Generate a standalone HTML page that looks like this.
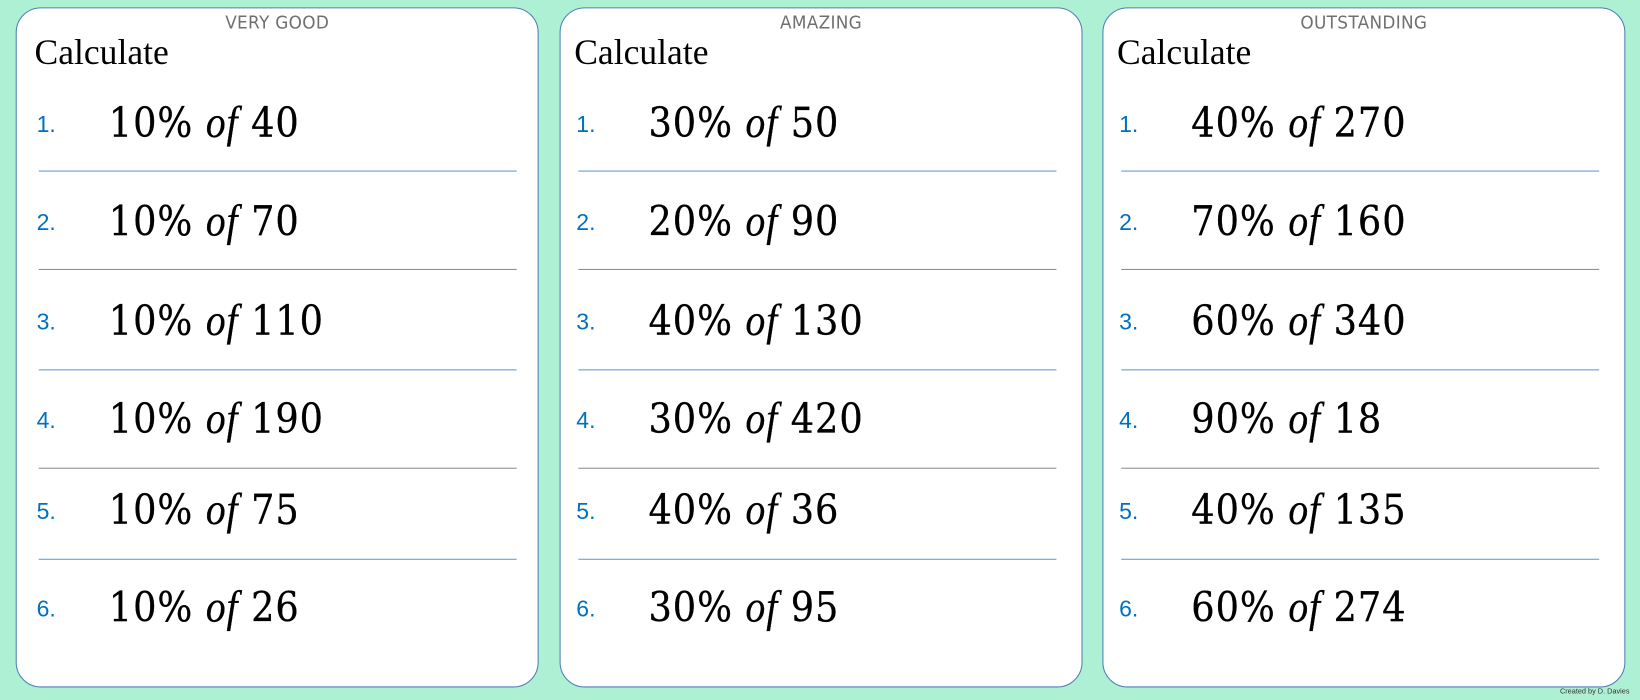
<!DOCTYPE html>
<html><head><meta charset="utf-8"><style>
html,body{margin:0;padding:0;width:1640px;height:700px;overflow:hidden;background:#adf0d3}
#w{position:absolute;left:0;top:0;width:1568px;height:669px;transform:scale(1.04592,1.04634);transform-origin:0 0}
.p{position:absolute;top:7px;width:498px;height:648px;background:#fff;border:1.5px solid #4f7fb5;border-radius:24px}
.in{position:absolute;left:0;top:0;width:100%;height:100%}
.s .in{left:-4px}
.t{position:absolute;top:4px;left:0;width:100%;text-align:center;font:17px "DejaVu Sans","Liberation Sans",sans-serif;color:#707070;letter-spacing:0.3px;transform:scaleX(0.95)}
.c{position:absolute;left:17px;top:24px;font:34px "Liberation Serif",serif;color:#000}
.n{position:absolute;left:19px;font:22px "Liberation Sans",sans-serif;color:#0070c0}
.e{position:absolute;left:88px;font:39px "DejaVu Serif","Liberation Serif",serif;color:#000;letter-spacing:1px;transform:scaleX(0.9);transform-origin:0 0;white-space:nowrap;-webkit-text-stroke:0.3px #000}
.e i{font-family:"Liberation Serif",serif;font-size:42px}
.l{position:absolute;left:21px;width:457px;height:1px}
.b{background:#5b9bd5}.g{background:#8c8c8c}
.cr{position:absolute;right:10px;top:658px;font:7px "Liberation Sans",sans-serif;color:#333}
</style></head><body><div id="w">
<div class="p" style="left:15px"><div class="in"><div class="t">VERY GOOD</div><div class="c">Calculate</div>
<div class="n" style="top:98px">1.</div><div class="e" style="top:86px">10% <i>of</i> 40</div><div class="l b" style="top:155px"></div>
<div class="n" style="top:192px">2.</div><div class="e" style="top:180px">10% <i>of</i> 70</div><div class="l g" style="top:249px"></div>
<div class="n" style="top:287px">3.</div><div class="e" style="top:275px">10% <i>of</i> 110</div><div class="l b" style="top:345px"></div>
<div class="n" style="top:381px">4.</div><div class="e" style="top:369px">10% <i>of</i> 190</div><div class="l g" style="top:439px"></div>
<div class="n" style="top:468px">5.</div><div class="e" style="top:456px">10% <i>of</i> 75</div><div class="l b" style="top:526px"></div>
<div class="n" style="top:561px">6.</div><div class="e" style="top:549px">10% <i>of</i> 26</div>
</div></div>
<div class="p s" style="left:535px"><div class="in"><div class="t" style="left:4px">AMAZING</div><div class="c">Calculate</div>
<div class="n" style="top:98px">1.</div><div class="e" style="top:86px">30% <i>of</i> 50</div><div class="l b" style="top:155px"></div>
<div class="n" style="top:192px">2.</div><div class="e" style="top:180px">20% <i>of</i> 90</div><div class="l g" style="top:249px"></div>
<div class="n" style="top:287px">3.</div><div class="e" style="top:275px">40% <i>of</i> 130</div><div class="l b" style="top:345px"></div>
<div class="n" style="top:381px">4.</div><div class="e" style="top:369px">30% <i>of</i> 420</div><div class="l g" style="top:439px"></div>
<div class="n" style="top:468px">5.</div><div class="e" style="top:456px">40% <i>of</i> 36</div><div class="l b" style="top:526px"></div>
<div class="n" style="top:561px">6.</div><div class="e" style="top:549px">30% <i>of</i> 95</div>
</div></div>
<div class="p s" style="left:1054px"><div class="in"><div class="t" style="left:4px">OUTSTANDING</div><div class="c">Calculate</div>
<div class="n" style="top:98px">1.</div><div class="e" style="top:86px">40% <i>of</i> 270</div><div class="l b" style="top:155px"></div>
<div class="n" style="top:192px">2.</div><div class="e" style="top:180px">70% <i>of</i> 160</div><div class="l g" style="top:249px"></div>
<div class="n" style="top:287px">3.</div><div class="e" style="top:275px">60% <i>of</i> 340</div><div class="l b" style="top:345px"></div>
<div class="n" style="top:381px">4.</div><div class="e" style="top:369px">90% <i>of</i> 18</div><div class="l g" style="top:439px"></div>
<div class="n" style="top:468px">5.</div><div class="e" style="top:456px">40% <i>of</i> 135</div><div class="l b" style="top:526px"></div>
<div class="n" style="top:561px">6.</div><div class="e" style="top:549px">60% <i>of</i> 274</div>
</div></div>
<div class="cr">Created by D. Davies</div>
</div></body></html>
